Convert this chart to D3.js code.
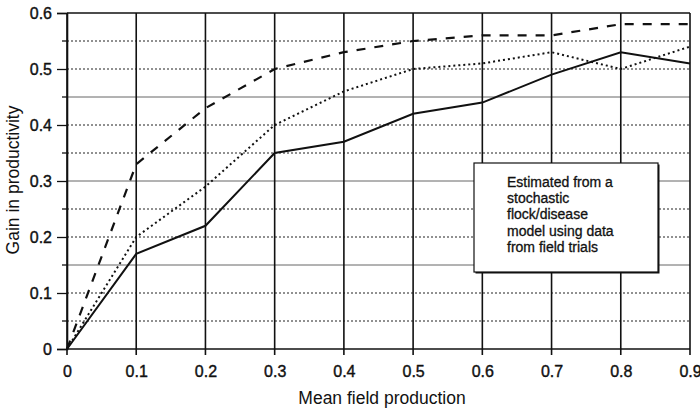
<!DOCTYPE html>
<html><head><meta charset="utf-8">
<script src="https://cdn.jsdelivr.net/npm/d3@7"></script>
<style>body{margin:0;background:#fff}svg{display:block}text{font-family:"Liberation Sans",Arial,sans-serif;fill:#111}</style>
</head><body><div id="c"></div>
<script>
const xValues = [0,0.1,0.2,0.3,0.4,0.5,0.6,0.7,0.8,0.9];
const solidSeries = [0,0.17,0.22,0.35,0.37,0.42,0.44,0.49,0.53,0.51];
const dottedSeries = [0,0.20,0.29,0.40,0.46,0.50,0.51,0.53,0.50,0.54];
const dashedSeries = [0,0.33,0.43,0.50,0.53,0.55,0.56,0.56,0.58,0.58];
const xTickLabels = ["0","0.1","0.2","0.3","0.4","0.5","0.6","0.7","0.8","0.9"];
const yTicks = [0,0.1,0.2,0.3,0.4,0.5,0.6];
const yMinor = [0.05,0.15,0.25,0.35,0.45,0.55];
const solidGrid = [0,0.15,0.3,0.45,0.6];
const noteLines = ["Estimated from a","stochastic","flock/disease","model using data","from field trials"];

const W=700,H=408;
const svg=d3.select("#c").append("svg").attr("width",W).attr("height",H);
const x=d3.scaleLinear().domain([0,0.9]).range([67,690]);
const y=d3.scaleLinear().domain([0,0.6]).range([349,13]);

// horizontal grid
const allH=[...yTicks,...yMinor].sort((a,b)=>a-b);
const isSolid=d=>solidGrid.some(s=>Math.abs(s-d)<1e-9);
svg.append("g").selectAll("line").data(allH).join("line")
  .attr("x1",x(0)).attr("x2",x(0.9)).attr("y1",d=>y(d)).attr("y2",d=>y(d))
  .attr("stroke",d=>(d===0||d===0.6)?"#111":(isSolid(d)?"#666":"#222"))
  .attr("stroke-width",d=>isSolid(d)?(d===0||d===0.6?1.6:1):1)
  .attr("stroke-dasharray",d=>isSolid(d)?null:"2,2");

// vertical grid
svg.append("g").selectAll("line").data(xValues).join("line")
  .attr("x1",d=>x(d)).attr("x2",d=>x(d)).attr("y1",y(0.6)).attr("y2",y(0)+6)
  .attr("stroke","#111").attr("stroke-width",1.6);

// y axis ticks
const yAxis=d3.axisLeft(y).tickValues(yTicks).tickFormat(d=>d===0?"0":d3.format(".1f")(d)).tickSize(10).tickPadding(5);
const ya=svg.append("g").attr("transform",`translate(${x(0)},0)`).call(yAxis);
ya.select(".domain").attr("stroke","#111").attr("stroke-width",1.6);
ya.selectAll(".tick line").attr("stroke","#111").attr("stroke-width",1.3);
ya.selectAll(".tick text").style("font-size","16px").style("font-family","'Liberation Sans',Arial,sans-serif")
  .attr("fill","#111").attr("stroke","#111").attr("stroke-width",0.4);
svg.append("g").selectAll("line").data(yMinor).join("line")
  .attr("x1",x(0)-5).attr("x2",x(0)).attr("y1",d=>y(d)).attr("y2",d=>y(d)).attr("stroke","#111").attr("stroke-width",1.3);

// x axis labels
const xAxis=d3.axisBottom(x).tickValues(xValues).tickFormat((d,i)=>xTickLabels[i]).tickSize(0).tickPadding(17);
const xa=svg.append("g").attr("transform",`translate(0,${y(0)})`).call(xAxis);
xa.select(".domain").remove();
xa.selectAll(".tick text").style("font-size","16px").style("font-family","'Liberation Sans',Arial,sans-serif")
  .attr("fill","#111").attr("stroke","#111").attr("stroke-width",0.4);

// series
const line=d3.line().x((d,i)=>x(xValues[i])).y(d=>y(d));
svg.append("path").datum(dottedSeries).attr("d",line).attr("fill","none").attr("stroke","#111").attr("stroke-width",2).attr("stroke-dasharray","2,3");
svg.append("path").datum(dashedSeries).attr("d",line).attr("fill","none").attr("stroke","#111").attr("stroke-width",2.2).attr("stroke-dasharray","9,9");
svg.append("path").datum(solidSeries).attr("d",line).attr("fill","none").attr("stroke","#111").attr("stroke-width",2);

// note box
const bx=474,by=163,bw=184,bh=109;
svg.append("rect").attr("x",bx+1.5).attr("y",by+1.5).attr("width",bw).attr("height",bh).attr("fill","#111");
svg.append("rect").attr("x",bx).attr("y",by).attr("width",bw).attr("height",bh).attr("fill","#fff").attr("stroke","#111").attr("stroke-width",1.2);
svg.append("g").selectAll("text").data(noteLines).join("text")
  .attr("x",507).attr("y",(d,i)=>187+i*16.2).text(d=>d)
  .style("font-size","14px").attr("stroke","#111").attr("stroke-width",0.3);

// axis titles
svg.append("text").attr("x",382).attr("y",404).attr("text-anchor","middle").style("font-size","17.5px").text("Mean field production");
svg.append("text").attr("transform","translate(19,180) rotate(-90)").attr("text-anchor","middle").style("font-size","17.5px").text("Gain in productivity");
</script></body></html>
